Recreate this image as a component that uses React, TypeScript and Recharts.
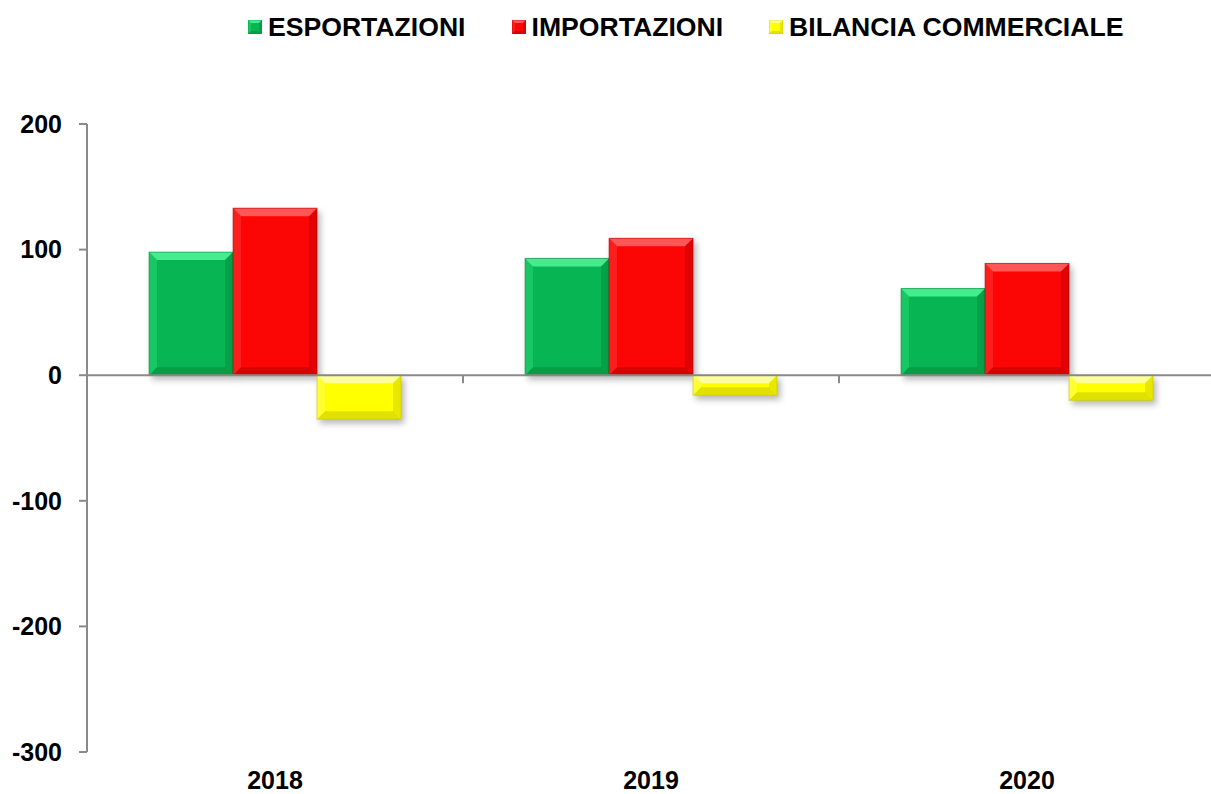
import React from 'react';
import {
  BarChart,
  Bar,
  XAxis,
  YAxis,
  ReferenceLine,
} from 'recharts';

const years = ['2018', '2019', '2020'];
const esportazioni = [98, 93, 69];
const importazioni = [133, 109, 89];
const bilancia = [-35, -16, -20];
const yTicks = [-300, -200, -100, 0, 100, 200];

const series = [
  { key: 'esp', name: 'ESPORTAZIONI', fill: '#07b652', light: '#45ec8e', dark: '#05843c' },
  { key: 'imp', name: 'IMPORTAZIONI', fill: '#fb0505', light: '#ff5656', dark: '#b80000' },
  { key: 'bil', name: 'BILANCIA COMMERCIALE', fill: '#ffff00', light: '#ffff9a', dark: '#c4c400' },
];

const data = years.map((year, i) => ({
  year,
  esp: esportazioni[i],
  imp: importazioni[i],
  bil: bilancia[i],
}));

const FONT = '"Liberation Sans", Arial, sans-serif';
const AXIS = '#8a8a8a';

type Tone = { fill: string; light: string; dark: string };

const Bevel = ({ x, y, w, h, tone, size }: { x: number; y: number; w: number; h: number; tone: Tone; size: number }) => {
  const b = Math.min(size, h / 2, w / 2);
  const l = x;
  const r = x + w;
  const t = y;
  const bt = y + h;
  return (
    <>
      <rect x={l} y={t} width={w} height={h} fill={tone.fill} />
      <polygon points={`${l},${t} ${r},${t} ${r - b},${t + b} ${l + b},${t + b}`} fill={tone.light} />
      <polygon points={`${l},${t} ${l + b},${t + b} ${l + b},${bt - b} ${l},${bt}`} fill={tone.light} opacity={0.3} />
      <polygon points={`${r},${t} ${r},${bt} ${r - b},${bt - b} ${r - b},${t + b}`} fill={tone.dark} opacity={0.4} />
      <polygon points={`${l},${bt} ${l + b},${bt - b} ${r - b},${bt - b} ${r},${bt}`} fill={tone.dark} opacity={0.5} />
      <rect x={l} y={t} width={w} height={h} fill="none" stroke={tone.dark} strokeOpacity={0.55} strokeWidth={1} />
    </>
  );
};

const BevelBar = (props: any) => {
  const { x, y, width, height, tone } = props;
  let top = y;
  let h = height;
  if (h < 0) {
    top = y + h;
    h = -h;
  }
  if (!width || !h) return null;
  return (
    <g style={{ filter: 'drop-shadow(3px 4px 3px rgba(0,0,0,0.28))' }}>
      <Bevel x={x} y={top} w={width} h={h} tone={tone} size={8} />
    </g>
  );
};

const ChartLegend = () => (
  <div
    style={{
      position: 'absolute',
      top: 12,
      left: 248,
      display: 'flex',
      alignItems: 'center',
      fontFamily: FONT,
      fontWeight: 'bold',
      fontSize: 26.6,
      lineHeight: '30px',
      color: '#000',
      whiteSpace: 'nowrap',
    }}
  >
    {series.map((s) => (
      <div key={s.key} style={{ display: 'flex', alignItems: 'center', marginRight: 46 }}>
        <svg width={14} height={14} style={{ marginRight: 6 }}>
          <Bevel x={0} y={0} w={14} h={14} tone={s} size={3} />
        </svg>
        <span>{s.name}</span>
      </div>
    ))}
  </div>
);

export default function App() {
  return (
    <div style={{ position: 'absolute', left: 0, top: 0, width: 1211, height: 794, overflow: 'hidden', background: '#fff' }}>
      <ChartLegend />
      <BarChart
        width={1215}
        height={794}
        data={data}
        margin={{ top: 124, right: 0, bottom: 0, left: 0 }}
        barGap={0}
        barCategoryGap="16.5%"
      >
        <XAxis
          dataKey="year"
          axisLine={false}
          tickLine={false}
          tickSize={0}
          tickMargin={19}
          height={42}
          tick={{ fontFamily: FONT, fontWeight: 'bold', fontSize: 25, fill: '#000' }}
        />
        <YAxis
          width={87}
          domain={[-300, 200]}
          ticks={yTicks}
          interval={0}
          tickSize={8}
          tickMargin={17}
          axisLine={{ stroke: AXIS, strokeWidth: 2 }}
          tickLine={{ stroke: AXIS, strokeWidth: 2 }}
          tick={{ fontFamily: FONT, fontWeight: 'bold', fontSize: 25, fill: '#000' }}
        />
        {series.map((s) => (
          <Bar
            key={s.key}
            dataKey={s.key}
            name={s.name}
            fill={s.fill}
            isAnimationActive={false}
            shape={(p: any) => <BevelBar {...p} tone={s} />}
          />
        ))}
        <ReferenceLine y={0} stroke={AXIS} strokeWidth={2} />
        {/* small ticks on the zero line between year groups */}
        {years.slice(0, -1).map((yr) => (
          <ReferenceLine
            key={yr}
            position="end"
            segment={[{ x: yr, y: 0 }, { x: yr, y: -6.5 }]}
            stroke={AXIS}
            strokeWidth={2}
          />
        ))}
      </BarChart>
    </div>
  );
}
